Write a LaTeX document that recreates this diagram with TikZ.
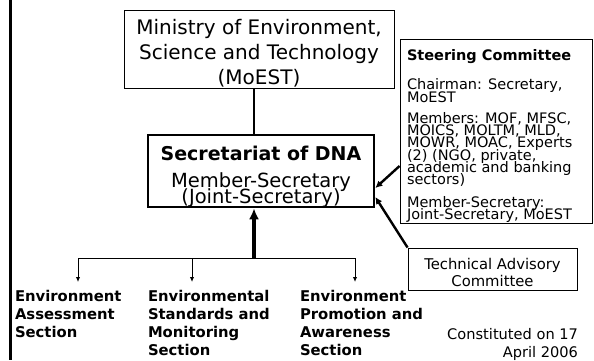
\documentclass[tikz,border=0pt]{standalone}
\usepackage{fontspec}
\setmainfont{DejaVu Sans}
\usetikzlibrary{arrows.meta}
\newcommand\tightfont[2]{\fontsize{#1}{#2}\selectfont\lineskiplimit=-50pt\lineskip=0pt\relax}
\begin{document}
\begin{tikzpicture}[x=1pt,y=-1pt,
  thinbox/.style={draw, line width=0.9pt, inner sep=0pt, rectangle},
  thickbox/.style={draw, line width=2.6pt, inner sep=0pt, rectangle},
  txt/.style={inner sep=0pt, outer sep=0pt},
  secfont/.style={font=\tightfont{14.8}{18}\bfseries, align=left, anchor=north west, txt},
  feed/.style={line width=2.4pt, -{Latex[length=7pt,width=7pt]}},
  down/.style={line width=1pt, -{Latex[length=5pt,width=4.5pt]}}
]
\useasboundingbox (0,0) rectangle (594,360);
\fill[white] (0,0) rectangle (594,360);

% left border line
\coordinate (lt) at (10,0);
\coordinate (lb) at (10,360);
\draw[line width=3pt] (lt) -- (lb);

% boxes
\node[thinbox, minimum width=270pt, minimum height=78pt] (min) at (259,49) {};
\node[thickbox, minimum width=226pt, minimum height=72pt] (sec) at (261,171) {};
\node[thinbox, minimum width=192pt, minimum height=184pt] (steer) at (496,131) {};
\node[thinbox, minimum width=169pt, minimum height=42pt] (tac) at (492.5,269) {};

% texts
\node[txt, font=\tightfont{20}{25}, align=center] (mintext) at (259,53)
  {Ministry of Environment,\\Science and Technology\\(MoEST)};
\node[txt, font=\tightfont{19}{22}\bfseries] (sectitle) at (261,153) {Secretariat of DNA};
\node[txt, font=\tightfont{19.5}{16}, align=center] (secsub) at (261,190)
  {Member-Secretary\\(Joint-Secretary)};
\node[txt, font=\tightfont{14.5}{12.3}, align=left, anchor=north west] (steertext) at (407,49)
  {\textbf{Steering Committee}\\[17.5pt]
   Chairman: Secretary,\\MoEST\\[8.7pt]
   Members: MOF, MFSC,\\MOICS, MOLTM, MLD,\\MOWR, MOAC, Experts\\(2) (NGO, private,\\academic and banking\\sectors)\\[10.7pt]
   Member-Secretary:\\Joint-Secretary, MoEST};
\node[txt, font=\tightfont{14.8}{17}, align=center] (tactext) at (492.5,272)
  {Technical Advisory\\Committee};

\node[secfont] (s1) at (15,290) {Environment\\Assessment\\Section};
\node[secfont] (s2) at (148,290) {Environmental\\Standards and\\Monitoring\\Section};
\node[secfont] (s3) at (300,290) {Environment\\Promotion and\\Awareness\\Section};

\node[txt, font=\tightfont{14.6}{18}, align=right, anchor=north east] (const) at (578,328)
  {Constituted on 17\\April 2006};

% connectors
\coordinate (j) at (254,258);
\coordinate (b1) at (78,282);
\coordinate (b2) at (192,282);
\coordinate (b3) at (355,282);
\draw[line width=1.1pt] (j |- min.south) -- (j |- sec.north);
\draw[line width=4pt, -{Latex[length=11pt,width=10pt]}] (j) -- (j |- sec.south);
\draw[line width=1pt] (b1 |- j) -- (b3 |- j);
\draw[down] (b1 |- j) -- (b1);
\draw[down] (b2 |- j) -- (b2);
\draw[down] (b3 |- j) -- (b3);

\coordinate (st1) at (0,166);
\coordinate (se1) at (0,188);
\coordinate (se2) at (0,197);
\draw[feed] (steer.west |- st1) -- (sec.east |- se1);
\draw[feed] (tac.north west) -- (sec.east |- se2);
\end{tikzpicture}
\end{document}
